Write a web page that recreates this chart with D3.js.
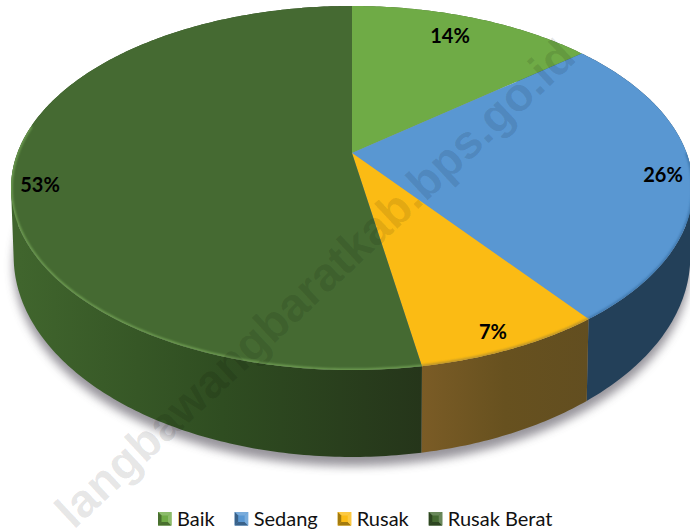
<!DOCTYPE html>
<html lang="en">
<head>
    <meta charset="UTF-8">
    <title>Kondisi</title>
    <script src="https://cdnjs.cloudflare.com/ajax/libs/d3/7.8.5/d3.min.js"></script>
    <style>
        html, body { margin: 0; padding: 0; background: #fff; }
        svg { display: block; }
        text { font-family: Lato, "Open Sans", sans-serif; }
    </style>
</head>
<body>
<svg id="viz" width="690" height="532"></svg>
<script>
    const categories = ["Baik", "Sedang", "Rusak", "Rusak Berat"];
    // slice sizes as read from the wedges, the labels show them rounded
    const shares = [14, 25.8, 7.49, 52.71];
    const topColors = ["#6fab46", "#5997d2", "#fbbb14", "#456a32"];
    const wallStops = [
        ["#3f6128", "#3f6128"],
        ["#223f5a", "#234059"],
        ["#7b5c26", "#67511f", "#624e20"],
        ["#40652d", "#2f4d21", "#25351a"]
    ];
    const rimColors = ["#85bb60", "#3f78ad", "#b8922a", "#6f9f52"];
    const watermark = "langbawangbaratkab.bps.go.id";

    const svg = d3.select("#viz");
    const defs = svg.append("defs");

    // the pie is a circle seen in perspective, so the apex is not the ellipse centre
    const K = -0.1923;
    const topFace = { x0: 352, y0: 153, a: 334.6, b: 175.3 };
    const bottomFace = { x0: 352, y0: 218, a: 332, b: 193 };

    function project(face, angle) {
        const x = Math.sin(angle), y = -Math.cos(angle);
        const den = 1 + K * y;
        return [face.x0 + face.a * x / den, face.y0 + face.b * y / den];
    }

    function rim(face, start, end) {
        const n = Math.max(2, Math.ceil((end - start) * 80));
        return d3.range(n + 1).map(i => project(face, start + (end - start) * i / n));
    }

    const line = d3.line();
    const slices = d3.pie().sort(null).value(d => d)(shares);

    // wall = union of small quads, a plain strip would miss the tangent corners at the sides
    function wallPath(d) {
        const up = rim(topFace, d.startAngle, d.endAngle);
        const down = rim(bottomFace, d.startAngle, d.endAngle);
        return d3.range(up.length - 1).map(i => {
            const quad = [up[i], up[i + 1], down[i + 1], down[i]];
            if (d3.polygonArea(quad) < 0) quad.reverse();
            return line(quad) + "Z";
        }).join("");
    }

    defs.append("filter").attr("id", "shadow")
        .attr("x", "-10%").attr("y", "-10%").attr("width", "120%").attr("height", "120%")
        .append("feGaussianBlur").attr("stdDeviation", 5);
    defs.append("filter").attr("id", "soft")
        .append("feGaussianBlur").attr("stdDeviation", 0.8);

    wallStops.forEach((stops, i) => {
        const g = defs.append("linearGradient").attr("id", "wall" + i)
            .attr("gradientUnits", "userSpaceOnUse")
            .attr("x1", i === 3 ? 20 : 420).attr("x2", i === 3 ? 424 : 590)
            .attr("y1", 0).attr("y2", 0);
        stops.forEach((c, j) => g.append("stop")
            .attr("offset", j / (stops.length - 1))
            .attr("stop-color", c));
    });

    defs.append("clipPath").attr("id", "topClip")
        .append("path").attr("d", line(rim(topFace, 0, 2 * Math.PI)) + "Z");

    // drop shadow under the bottom rim
    svg.append("path")
        .attr("d", line(rim({ ...bottomFace, y0: bottomFace.y0 + 9 }, 0, 2 * Math.PI)) + "Z")
        .attr("fill", "#85828a")
        .attr("opacity", 0.85)
        .attr("filter", "url(#shadow)");

    // side walls
    svg.selectAll("path.wall")
        .data(slices)
        .enter()
        .append("path")
        .attr("class", "wall")
        .attr("fill", (d, i) => `url(#wall${i})`)
        .attr("d", wallPath);

    // top face
    svg.selectAll("path.top")
        .data(slices)
        .enter()
        .append("path")
        .attr("class", "top")
        .attr("fill", (d, i) => topColors[i])
        .attr("d", d => line([[topFace.x0, topFace.y0]].concat(rim(topFace, d.startAngle, d.endAngle))) + "Z");

    // bevel, only on the near edge of the top face
    const nearLimit = 1.55 * Math.PI;
    svg.append("g").attr("clip-path", "url(#topClip)")
        .selectAll("path.rim")
        .data(slices)
        .enter()
        .append("path")
        .attr("class", "rim")
        .attr("fill", "none")
        .attr("stroke", (d, i) => rimColors[i])
        .attr("stroke-width", 3)
        .attr("filter", "url(#soft)")
        .attr("d", d => {
            const start = Math.max(d.startAngle, Math.PI / 2);
            const end = Math.min(d.endAngle, nearLimit);
            return end > start ? line(rim(topFace, start, end)) : null;
        });

    // watermark
    svg.append("text")
        .attr("transform", "translate(578,60) rotate(-43)")
        .attr("text-anchor", "end")
        .style("font-family", "'Liberation Sans', Arial, sans-serif")
        .style("font-weight", "bold")
        .style("font-size", "47px")
        .attr("fill", "#000")
        .attr("fill-opacity", 0.1)
        .text(watermark);

    // percent labels
    const labelPos = [[450, 36], [663, 175], [493, 332], [40, 185]];
    svg.selectAll("text.pct")
        .data(shares)
        .enter()
        .append("text")
        .attr("class", "pct")
        .attr("x", (d, i) => labelPos[i][0])
        .attr("y", (d, i) => labelPos[i][1])
        .attr("dy", "0.35em")
        .attr("text-anchor", "middle")
        .style("font-size", "20px")
        .style("font-weight", "bold")
        .attr("fill", "#000")
        .text(d => Math.round(d) + "%");

    // legend
    const legend = svg.append("g").attr("transform", "translate(158,512)");
    let cursor = 0;
    categories.forEach((name, i) => {
        const item = legend.append("g").attr("transform", `translate(${cursor},0)`);
        const s = 13.5, m = 3.5;
        const light = d3.interpolateRgb(topColors[i], "#fff")(0.2);
        const dark = d3.interpolateRgb(topColors[i], "#000")(0.35);
        item.append("rect").attr("width", s).attr("height", s).attr("fill", topColors[i]);
        [
            [[0, 0], [s, 0], [s - m, m], [m, m], light],
            [[0, s], [s, s], [s - m, s - m], [m, s - m], dark],
            [[0, 0], [0, s], [m, s - m], [m, m], dark],
            [[s, 0], [s, s], [s - m, s - m], [s - m, m], light]
        ].forEach(q => item.append("path").attr("d", line(q.slice(0, 4)) + "Z").attr("fill", q[4]));
        const label = item.append("text")
            .attr("x", 19)
            .attr("y", 13.5)
            .style("font-size", "20px")
            .attr("fill", "#111")
            .text(name);
        cursor += 19 + label.node().getComputedTextLength() + 20;
    });
</script>
</body>
</html>
